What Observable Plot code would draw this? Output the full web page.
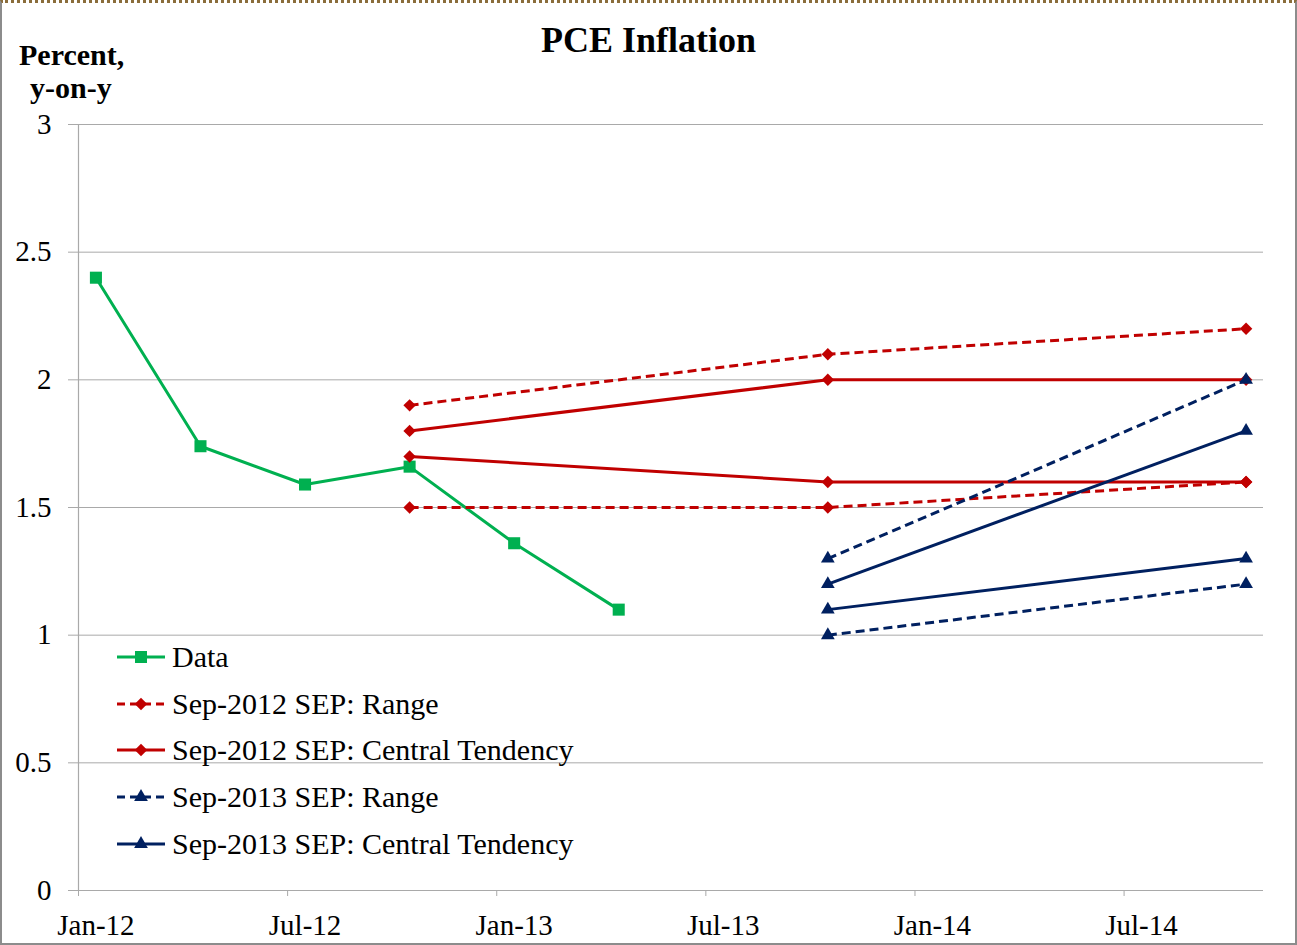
<!DOCTYPE html>
<html>
<head>
<meta charset="utf-8">
<script src="https://cdn.jsdelivr.net/npm/d3@7"></script>
<script src="https://cdn.jsdelivr.net/npm/@observablehq/plot@0.6"></script>
<style>
  html, body { margin: 0; padding: 0; background: #fff; }
  #wrap { position: relative; width: 1297px; height: 945px; overflow: hidden; font-family: "Liberation Serif", "Times New Roman", serif; color: #000; }
  #frame { position: absolute; left: 0; top: 0; width: 1297px; height: 945px; box-sizing: border-box;
           border-left: 2px solid #8c8c8c; border-right: 2px solid #8c8c8c; border-bottom: 2px solid #8c8c8c;
           border-top: 3px dotted #8a6d3b; pointer-events: none; }
  #header { position: relative; height: 104px; }
  #title { position: absolute; left: 0; width: 1297px; top: 22px; text-align: center; font-weight: bold; font-size: 36px; line-height: 36px; }
  .ylab { position: absolute; font-weight: bold; font-size: 30px; line-height: 30px; white-space: nowrap; }
  #legend { position: absolute; left: 116px; top: 0; }
  .lrow { position: absolute; left: 0; height: 40px; display: flex; align-items: center; white-space: nowrap; font-size: 30px; }
  .lrow svg { display: block; margin-right: 6px; }
  #chart svg { display: block; }
</style>
</head>
<body>
<div id="wrap">
  <div id="header">
    <div id="title">PCE Inflation</div>
    <div class="ylab" style="left:19px; top:40px;">Percent,</div>
    <div class="ylab" style="left:30px; top:73px;">y-on-y</div>
  </div>
  <div id="chart"></div>
  <div id="legend"></div>
  <div id="frame"></div>
</div>
<script>
// ---- data ----
const dataDates = ["2012-01", "2012-04", "2012-07", "2012-10", "2013-01", "2013-04"];
const dataValues = [2.4, 1.74, 1.59, 1.66, 1.36, 1.1];

const sep12Dates = ["2012-10", "2013-10", "2014-10"];
const sep12RangeHigh = [1.9, 2.1, 2.2];
const sep12RangeLow = [1.5, 1.5, 1.6];
const sep12CTHigh = [1.8, 2.0, 2.0];
const sep12CTLow = [1.7, 1.6, 1.6];

const sep13Dates = ["2013-10", "2014-10"];
const sep13RangeHigh = [1.3, 2.0];
const sep13RangeLow = [1.0, 1.2];
const sep13CTHigh = [1.2, 1.8];
const sep13CTLow = [1.1, 1.3];

const seriesNames = ["Data", "Sep-2012 SEP: Range", "Sep-2012 SEP: Central Tendency", "Sep-2013 SEP: Range", "Sep-2013 SEP: Central Tendency"];
const seriesColors = ["#00b050", "#c00000", "#c00000", "#002060", "#002060"];
const seriesDashed = [false, true, false, true, false];
const seriesSymbols = ["square", "diamond2", "diamond2", "triangle", "triangle"];

const xTickDates = ["2012-01", "2012-07", "2013-01", "2013-07", "2014-01", "2014-07"];
const xTickLabels = ["Jan-12", "Jul-12", "Jan-13", "Jul-13", "Jan-14", "Jul-14"];
const yTicks = [0, 0.5, 1, 1.5, 2, 2.5, 3];
const yTickLabels = ["0", "0.5", "1", "1.5", "2", "2.5", "3"];

// ---- build table ----
const monthIndex = s => { const [y, m] = s.split("-").map(Number); return (y - 2012) * 12 + (m - 1); };
const rows = [];
function add(series, group, dates, values) {
  dates.forEach((d, i) => rows.push({series, group, x: monthIndex(d), y: values[i]}));
}
add(0, "data", dataDates, dataValues);
add(1, "r12h", sep12Dates, sep12RangeHigh);
add(1, "r12l", sep12Dates, sep12RangeLow);
add(2, "c12h", sep12Dates, sep12CTHigh);
add(2, "c12l", sep12Dates, sep12CTLow);
add(3, "r13h", sep13Dates, sep13RangeHigh);
add(3, "r13l", sep13Dates, sep13RangeLow);
add(4, "c13h", sep13Dates, sep13CTHigh);
add(4, "c13l", sep13Dates, sep13CTLow);

const xLabelPos = xTickDates.map(monthIndex);
const xBoundaries = xLabelPos.map(v => v - 0.5);
const symbolR = {square: 6.8, diamond2: 5.6, triangle: 5.1};

const seriesMarks = seriesNames.flatMap((name, s) => {
  const sub = rows.filter(r => r.series === s);
  return [
    Plot.line(sub, {x: "x", y: "y", z: "group", stroke: seriesColors[s], strokeWidth: 3,
      strokeDasharray: seriesDashed[s] ? "9,5" : null, strokeLinecap: "butt"}),
    Plot.dot(sub, {x: "x", y: "y", symbol: () => seriesSymbols[s], fill: seriesColors[s], stroke: "none",
      r: symbolR[seriesSymbols[s]]})
  ];
});

const chart = Plot.plot({
  width: 1297,
  height: 841,
  marginLeft: 78,
  marginRight: 34,
  marginTop: 20,
  marginBottom: 55,
  style: {fontFamily: "'Liberation Serif', 'Times New Roman', serif", fontSize: "29px", color: "#000", background: "transparent", overflow: "visible"},
  x: {type: "linear", domain: [-0.5, 33.5], label: null},
  y: {domain: [0, 3], label: null},
  symbol: {type: "identity"},
  marks: [
    Plot.gridY(yTicks, {stroke: "#a9a9a9", strokeOpacity: 1, strokeWidth: 1}),
    Plot.ruleX([-0.5], {stroke: "#a9a9a9", strokeWidth: 1.2}),
    Plot.ruleY([0], {stroke: "#a9a9a9", strokeWidth: 1.2}),
    Plot.axisY(yTicks, {tickSize: 10, tickPadding: 17, stroke: "#a9a9a9", fill: "#000",
      tickFormat: d => yTickLabels[yTicks.indexOf(d)], label: null}),
    Plot.axisX(xLabelPos, {tickSize: 0, tickPadding: 24, fill: "#000",
      tickFormat: d => xTickLabels[xLabelPos.indexOf(d)], label: null}),
    Plot.axisX(xBoundaries, {tickSize: 6, tickPadding: 0, stroke: "#a9a9a9", tickFormat: () => "", label: null}),
    ...seriesMarks
  ]
});
document.getElementById("chart").appendChild(chart);

// ---- legend ----
const legend = document.getElementById("legend");
const legendCenters = [657, 704, 750, 797, 844];
seriesNames.forEach((name, s) => {
  const row = document.createElement("div");
  row.className = "lrow";
  row.style.top = (legendCenters[s] - 20) + "px";
  const svg = d3.create("svg").attr("width", 50).attr("height", 20);
  svg.append("line").attr("x1", 1).attr("x2", 49).attr("y1", 10).attr("y2", 10)
    .attr("stroke", seriesColors[s]).attr("stroke-width", 3)
    .attr("stroke-dasharray", seriesDashed[s] ? "8,5" : null);
  const symType = {square: d3.symbolSquare, diamond2: d3.symbolDiamond2, triangle: d3.symbolTriangle}[seriesSymbols[s]];
  const r = symbolR[seriesSymbols[s]];
  svg.append("path").attr("transform", "translate(25,10)")
    .attr("d", d3.symbol(symType, Math.PI * r * r)()).attr("fill", seriesColors[s]);
  row.appendChild(svg.node());
  const t = document.createElement("span");
  t.textContent = name;
  row.appendChild(t);
  legend.appendChild(row);
});
</script>
</body>
</html>
